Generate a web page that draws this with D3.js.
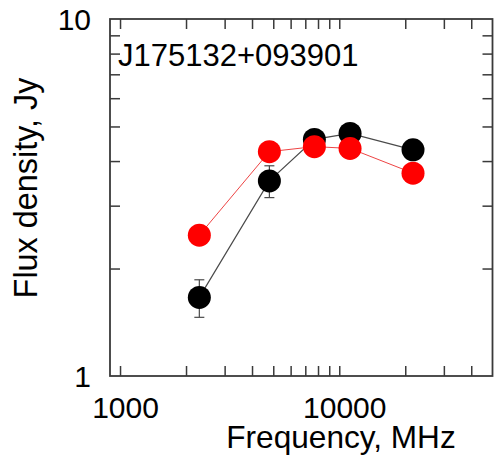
<!DOCTYPE html>
<html>
<head>
<meta charset="utf-8">
<script src="https://cdn.jsdelivr.net/npm/d3@7"></script>
<style>
  html, body { margin: 0; padding: 0; background: #fff; }
  svg text { font-family: "Liberation Sans", Arial, Helvetica, sans-serif; fill: #000; }
</style>
</head>
<body>
<svg id="chart" width="495" height="457"></svg>
<script>
// Radio spectrum of J175132+093901 (two epochs)
const sourceName = "J175132+093901";
const freqMHz = [2300, 4800, 7700, 11200, 21700];
const fluxBlack = [1.66, 3.52, 4.60, 4.78, 4.30];
const errBlack = [0.20, 0.36, 0.15, 0.15, 0.15];
const fluxRed = [2.48, 4.25, 4.39, 4.34, 3.70];
const xTicks = [1000, 2000, 3000, 4000, 5000, 6000, 7000, 8000, 9000, 10000, 20000, 30000, 40000];
const xTickLabels = [1000, 10000];
const yTicks = [2, 3, 4, 5, 6, 7, 8, 9];
const yTickLabels = [1, 10];
const xTitle = "Frequency, MHz";
const yTitle = "Flux density, Jy";

const svg = d3.select("#chart");
const L = 110, R = 492.5, T = 19, B = 376;
const x = d3.scaleLog().domain([900, 50000]).range([L, R]);
const y = d3.scaleLog().domain([1, 10]).range([B, T]);
const frameColor = "#3a3a3a";
const tickLen = 10;

// inward ticks on all four sides
function tickAxis(axisFn, scale, vals, transform) {
  const g = svg.append("g").attr("transform", transform)
    .call(axisFn(scale).tickValues(vals).tickSizeInner(-tickLen).tickSizeOuter(0).tickFormat(""));
  g.select(".domain").remove();
  g.selectAll(".tick line").attr("stroke", frameColor).attr("stroke-width", 1.5);
  return g;
}
tickAxis(d3.axisBottom, x, xTicks, `translate(0,${B})`);
tickAxis(d3.axisTop, x, xTicks, `translate(0,${T})`);
tickAxis(d3.axisLeft, y, yTicks, `translate(${L},0)`);
tickAxis(d3.axisRight, y, yTicks, `translate(${R},0)`);

// frame
svg.append("rect").attr("x", L).attr("y", T).attr("width", R - L).attr("height", B - T)
  .attr("fill", "none").attr("stroke", frameColor).attr("stroke-width", 1.8);

// tick labels
const xl = svg.append("g").attr("transform", `translate(0,${B})`)
  .call(d3.axisBottom(x).tickValues(xTickLabels).tickSize(0).tickPadding(21).tickFormat(d3.format("d")));
xl.select(".domain").remove();
xl.selectAll("text").attr("font-size", 30).attr("dx", 5).attr("font-family", null);

const yl = svg.append("g").attr("transform", `translate(${L},0)`)
  .call(d3.axisLeft(y).tickValues(yTickLabels).tickSize(0).tickPadding(19).tickFormat(d3.format("d")));
yl.select(".domain").remove();
yl.selectAll("text").attr("font-size", 30).attr("dy", "0.36em").attr("font-family", null);

// axis titles
svg.append("text").attr("x", 341).attr("y", 448).attr("text-anchor", "middle")
  .attr("font-size", 31.6).text(xTitle);
svg.append("text").attr("transform", "translate(37,188) rotate(-90)").attr("text-anchor", "middle")
  .attr("font-size", 32.4).text(yTitle);

// source name
svg.append("text").attr("x", 118).attr("y", 66).attr("font-size", 31).text(sourceName);

const r = 11.5;
const line = d3.line().x(d => x(d[0])).y(d => y(d[1]));

// black epoch
const blk = d3.zip(freqMHz, fluxBlack, errBlack);
svg.append("path").datum(blk).attr("d", line).attr("fill", "none")
  .attr("stroke", "#4a4a4a").attr("stroke-width", 1.2);
const eb = svg.append("g").attr("stroke", "#4a4a4a").attr("stroke-width", 1.2);
blk.forEach(([f, v, e]) => {
  const cx = x(f), y1 = y(v + e), y2 = y(v - e);
  eb.append("line").attr("x1", cx).attr("x2", cx).attr("y1", y1).attr("y2", y2);
  eb.append("line").attr("x1", cx - 5).attr("x2", cx + 5).attr("y1", y1).attr("y2", y1);
  eb.append("line").attr("x1", cx - 5).attr("x2", cx + 5).attr("y1", y2).attr("y2", y2);
});
svg.append("g").selectAll("circle").data(blk).join("circle")
  .attr("cx", d => x(d[0])).attr("cy", d => y(d[1])).attr("r", r).attr("fill", "#000");

// red epoch
const red = d3.zip(freqMHz, fluxRed);
svg.append("path").datum(red).attr("d", line).attr("fill", "none")
  .attr("stroke", "#ee4444").attr("stroke-width", 1);
svg.append("g").selectAll("circle").data(red).join("circle")
  .attr("cx", d => x(d[0])).attr("cy", d => y(d[1])).attr("r", r).attr("fill", "#ff0000");
</script>
</body>
</html>
